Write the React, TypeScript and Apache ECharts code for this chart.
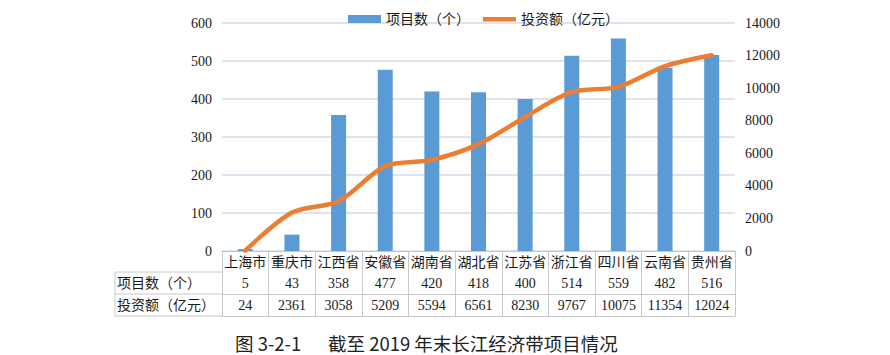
import React, { useEffect, useRef } from "react";
import * as echarts from "echarts";

const categories = ["上海市", "重庆市", "江西省", "安徽省", "湖南省", "湖北省", "江苏省", "浙江省", "四川省", "云南省", "贵州省"];
const projectCounts = [5, 43, 358, 477, 420, 418, 400, 514, 559, 482, 516];
const investments = [24, 2361, 3058, 5209, 5594, 6561, 8230, 9767, 10075, 11354, 12024];
const seriesNames = ["项目数（个）", "投资额（亿元）"];
const captionNo = "图 3-2-1";
const captionText = "截至 2019 年末长江经济带项目情况";

const SERIF = "'Liberation Serif', 'Times New Roman', 'Noto Sans CJK SC', serif";
const SANS = "'Noto Sans CJK SC', 'Noto Sans', sans-serif";
const BORDER = "#c8c8c8";
const LINE_ICON = "path://M0,0 L0,0 M0,8 L0,8 M0,2 L33,2 L33,6.5 L0,6.5 Z";

export default function App() {
  const ref = useRef<HTMLDivElement>(null);
  useEffect(() => {
    if (!ref.current) return;
    const chart = echarts.init(ref.current, undefined, { renderer: "svg" });
    const gridLeft = 222;
    const gridRight = 735;
    const axisY = 251;
    const rowLines = [axisY, 272, 294, 316];
    const tableAxis = (idx: number, data: (string | number)[], showLabel: boolean) => ({
      type: "category",
      gridIndex: 0,
      position: "bottom",
      offset: rowLines[idx] - axisY,
      data: data.map(String),
      boundaryGap: true,
      axisLine: { show: true, lineStyle: { color: BORDER, width: 1 } },
      axisTick: idx === 0
        ? { show: true, interval: 0, length: rowLines[3] - axisY, lineStyle: { color: BORDER, width: 1 } }
        : { show: false },
      axisLabel: {
        show: showLabel,
        interval: 0,
        margin: 4,
        fontSize: 14,
        fontFamily: SERIF,
        color: "#1a1a1a",
      },
      splitLine: { show: false },
    });
    chart.setOption({
      animation: false,
      backgroundColor: "#ffffff",
      grid: { left: gridLeft, right: 890 - gridRight, top: 23, bottom: 355 - axisY, containLabel: false },
      legend: {
        left: 343,
        top: 7,
        itemWidth: 33,
        itemHeight: 8,
        itemGap: 13,
        textStyle: { fontSize: 14, fontFamily: SERIF, color: "#1a1a1a" },
        data: [
          { name: seriesNames[0], icon: "rect" },
          { name: seriesNames[1], icon: LINE_ICON, itemStyle: { color: "#ed7d31" } },
        ],
      },
      xAxis: [
        tableAxis(0, categories, true),
        tableAxis(1, projectCounts, true),
        tableAxis(2, investments, true),
        tableAxis(3, categories, false),
      ],
      yAxis: [
        {
          type: "value",
          min: 0,
          max: 600,
          interval: 100,
          axisLine: { show: false },
          axisTick: { show: false },
          axisLabel: { margin: 10, fontSize: 14, fontFamily: SERIF, color: "#1a1a1a" },
          splitLine: { show: true, lineStyle: { color: "#cfdcec", width: 1.5 } },
        },
        {
          type: "value",
          min: 0,
          max: 14000,
          interval: 2000,
          position: "right",
          axisLine: { show: false },
          axisTick: { show: false },
          axisLabel: {
            margin: 10,
            fontSize: 14,
            fontFamily: SERIF,
            color: "#1a1a1a",
            formatter: (v: number) => String(v),
          },
          splitLine: { show: false },
        },
      ],
      series: [
        {
          name: seriesNames[0],
          type: "bar",
          xAxisIndex: 0,
          yAxisIndex: 0,
          barWidth: 15,
          itemStyle: { color: "#5b9bd5" },
          data: projectCounts,
        },
        {
          name: seriesNames[1],
          type: "line",
          xAxisIndex: 0,
          yAxisIndex: 1,
          smooth: 0.3,
          symbol: "none",
          lineStyle: { color: "#ed7d31", width: 4.5, cap: "round" },
          itemStyle: { color: "#ed7d31" },
          data: investments,
        },
      ],
      graphic: [
        { type: "line", shape: { x1: 115, y1: rowLines[1], x2: gridLeft, y2: rowLines[1] }, style: { stroke: BORDER, lineWidth: 1 } },
        { type: "line", shape: { x1: 115, y1: rowLines[2], x2: gridLeft, y2: rowLines[2] }, style: { stroke: BORDER, lineWidth: 1 } },
        { type: "line", shape: { x1: 115, y1: rowLines[3], x2: gridLeft, y2: rowLines[3] }, style: { stroke: BORDER, lineWidth: 1 } },
        { type: "line", shape: { x1: 115, y1: rowLines[1], x2: 115, y2: rowLines[3] }, style: { stroke: BORDER, lineWidth: 1 } },
        {
          type: "text",
          x: 117,
          y: (rowLines[1] + rowLines[2]) / 2,
          style: { text: seriesNames[0], fontSize: 14, fontFamily: SERIF, fill: "#1a1a1a", textVerticalAlign: "middle" },
        },
        {
          type: "text",
          x: 117,
          y: (rowLines[2] + rowLines[3]) / 2,
          style: { text: seriesNames[1], fontSize: 14, fontFamily: SERIF, fill: "#1a1a1a", textVerticalAlign: "middle" },
        },
        {
          type: "text",
          x: 235,
          y: 343,
          style: { text: captionNo, fontSize: 18.5, lineHeight: 19, fontFamily: SANS, fill: "#222", textVerticalAlign: "middle" },
        },
        {
          type: "text",
          x: 328,
          y: 343,
          style: { text: captionText, fontSize: 18.5, lineHeight: 19, fontFamily: SANS, fill: "#222", textVerticalAlign: "middle" },
        },
      ],
    });
    return () => chart.dispose();
  }, []);
  return <div ref={ref} style={{ position: "absolute", left: 0, top: 0, width: 890, height: 355 }} />;
}
